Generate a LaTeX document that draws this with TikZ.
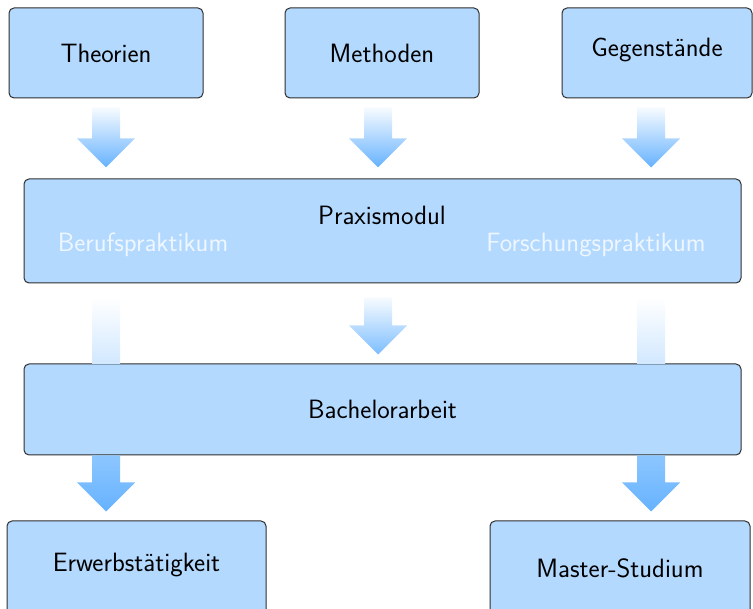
\documentclass[tikz,border=0pt]{standalone}
\usetikzlibrary{calc}
\definecolor{boxfill}{HTML}{B3D9FF}
\definecolor{arrowdeep}{HTML}{66B2FF}
\definecolor{arrowmid}{HTML}{8CC6FF}
\definecolor{arrowpale}{HTML}{F7FBFF}
\definecolor{arrowsoft}{HTML}{D2E8FF}
\definecolor{subtext}{HTML}{EEF6FF}
\definecolor{edge}{HTML}{2E2E2E}
\newcommand\blockarrow[3]{%
  \path[#3] let \p1=(#1), \p2=(#2) in
    (\x1-14pt,\y1) -- (\x1+14pt,\y1) -- (\x1+14pt,\y2+29pt) -- (\x1+29pt,\y2+29pt)
    -- (\x1,\y2) -- (\x1-29pt,\y2+29pt) -- (\x1-14pt,\y2+29pt) -- cycle;}
\newcommand\blockshaft[3]{%
  \path[#3] let \p1=(#1), \p2=(#2) in
    (\x1-14pt,\y1) rectangle (\x1+14pt,\y2);}
\begin{document}
\begin{tikzpicture}[x=1pt,y=-1pt,
  box/.style={draw=edge, line width=1pt, fill=boxfill, rounded corners=5pt,
    inner sep=0pt, font=\fontsize{26.5}{30}\selectfont\sffamily},
  sub/.style={text=subtext, font=\fontsize{26.5}{30}\selectfont\sffamily, inner sep=0pt},
  lbl/.style={text=black, font=\fontsize{26.5}{30}\selectfont\sffamily, inner sep=0pt}]
\useasboundingbox (0,0) rectangle (753,609);
% top row
\node[box, minimum width=194, minimum height=90] (theo) at (106,53) {Theorien};
\node[box, minimum width=194, minimum height=90] (meth) at (382,53) {Methoden};
\node[box, minimum width=190, minimum height=90] (geg) at (657,53) {};
\node[lbl] (gegl) at (657,50) {Gegenstände};
% Praxismodul
\node[box, minimum width=717, minimum height=104] (prax) at (382.5,231) {};
\node[lbl] (praxl) at (382,215) {Praxismodul};
\node[sub] (beruf) at (143,245) {Berufspraktikum};
\node[sub] (forsch) at (596,245) {Forschungspraktikum};
% Bachelorarbeit
\node[box, minimum width=717, minimum height=91] (bach) at (382.5,409.5) {Bachelorarbeit};
% bottom row
\node[box, minimum width=259, minimum height=94] (erw) at (136.5,568) {};
\node[lbl] (erwl) at (136.5,565) {Erwerbstätigkeit};
\node[box, minimum width=260, minimum height=94] (mast) at (620,568) {};
\node[lbl] (mastl) at (620,568) {Master-Studium};
% arrows top -> Praxismodul
\coordinate (a1s) at ($(theo.south)+(0,9)$);
\coordinate (a1e) at ($(theo.south |- prax.north)+(0,-11)$);
\coordinate (a2s) at ($(meth.south)+(-4,9)$);
\coordinate (a2e) at ($(meth.south |- prax.north)+(-4,-11)$);
\coordinate (a3s) at ($(geg.south)+(-6,9)$);
\coordinate (a3e) at ($(geg.south |- prax.north)+(-6,-11)$);
\blockarrow{a1s}{a1e}{top color=arrowpale, bottom color=arrowdeep}
\blockarrow{a2s}{a2e}{top color=arrowpale, bottom color=arrowdeep}
\blockarrow{a3s}{a3e}{top color=arrowpale, bottom color=arrowdeep}
% Praxismodul -> Bachelorarbeit
\coordinate (b1s) at ($(a1s |- prax.south)+(0,14)$);
\coordinate (b1e) at (a1s |- bach.north);
\coordinate (b2s) at ($(a2s |- prax.south)+(0,14)$);
\coordinate (b2e) at ($(a2s |- bach.north)+(0,-9)$);
\coordinate (b3s) at ($(a3s |- prax.south)+(0,14)$);
\coordinate (b3e) at (a3s |- bach.north);
\blockshaft{b1s}{b1e}{top color=white, bottom color=arrowsoft}
\blockarrow{b2s}{b2e}{top color=arrowpale, bottom color=arrowdeep!85}
\blockshaft{b3s}{b3e}{top color=white, bottom color=arrowsoft}
% Bachelorarbeit -> exits
\coordinate (c1s) at (a1s |- bach.south);
\coordinate (c1e) at ($(a1s |- erw.north)+(0,-9)$);
\coordinate (c3s) at (a3s |- bach.south);
\coordinate (c3e) at ($(a3s |- mast.north)+(0,-9)$);
\blockarrow{c1s}{c1e}{top color=arrowmid, bottom color=arrowdeep}
\blockarrow{c3s}{c3e}{top color=arrowmid, bottom color=arrowdeep}
\end{tikzpicture}
\end{document}
